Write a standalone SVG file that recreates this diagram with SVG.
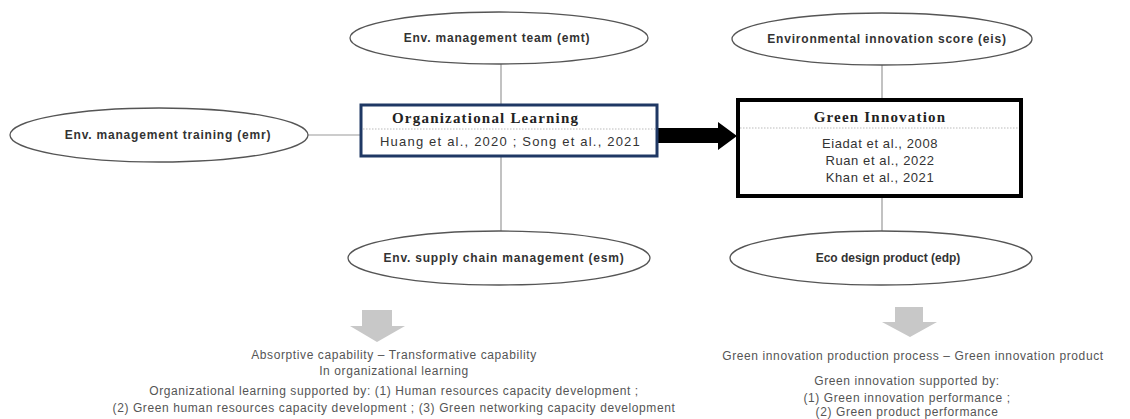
<svg xmlns="http://www.w3.org/2000/svg" width="1130" height="419" viewBox="0 0 1130 419">
<style>
.ell{fill:#fff;stroke:#555;stroke-width:1.3}
.el{font-family:"Liberation Sans",Arial,sans-serif;font-size:12px;font-weight:bold;fill:#333;text-anchor:middle;letter-spacing:0.8px}
.conn{stroke:#999;stroke-width:1.2;fill:none}
.ttl{font-family:"Liberation Serif","Times New Roman",serif;font-size:15px;font-weight:bold;fill:#222;letter-spacing:1.2px}
.ref{font-family:"Liberation Sans",Arial,sans-serif;font-size:13px;fill:#333;letter-spacing:0.6px}
.dot{stroke:#aaa;stroke-width:0.8;stroke-dasharray:1.5 1.5}
.note{font-family:"Liberation Sans",Arial,sans-serif;font-size:12px;fill:#555;text-anchor:middle;letter-spacing:0.6px}
.garrow{fill:#c8c8c8}
</style>
<rect width="1130" height="419" fill="#fff"/>
<g id="connectors">
<line class="conn" x1="501" y1="64" x2="501" y2="105"/>
<line class="conn" x1="501" y1="156" x2="501" y2="232"/>
<line class="conn" x1="308" y1="135" x2="361" y2="135"/>
<line class="conn" x1="882" y1="65" x2="882" y2="99"/>
<line class="conn" x1="882" y1="197" x2="882" y2="232"/>
<polygon fill="#000" points="658,128 718,128 718,122 737,136 718,150 718,143 658,143"/>
</g>
<g id="emt">
<ellipse class="ell" cx="499" cy="38" rx="149" ry="26"/>
<text class="el" x="497" y="42">Env. management team (emt)</text>
</g>
<g id="emr">
<ellipse class="ell" cx="159" cy="135" rx="149" ry="27"/>
<text class="el" x="168" y="139">Env. management training (emr)</text>
</g>
<g id="esm">
<ellipse class="ell" cx="499" cy="258" rx="151" ry="27"/>
<text class="el" x="504" y="262">Env. supply chain management (esm)</text>
</g>
<g id="eis">
<ellipse class="ell" cx="882" cy="39" rx="150" ry="26"/>
<text class="el" x="887" y="43">Environmental innovation score (eis)</text>
</g>
<g id="edp">
<ellipse class="ell" cx="881" cy="258" rx="151" ry="27"/>
<text class="el" x="888" y="262" style="letter-spacing:0">Eco design product (edp)</text>
</g>
<g id="organizational-learning">
<rect x="361" y="105" width="296" height="51" fill="#fff" stroke="#1f3864" stroke-width="3"/>
<line class="dot" x1="363" y1="129" x2="655" y2="129"/>
<text class="ttl" x="392" y="123">Organizational Learning</text>
<text class="ref" x="380" y="146" style="letter-spacing:1.2px">Huang et al., 2020 ; Song et al., 2021</text>
</g>
<g id="green-innovation">
<rect x="738" y="100" width="283" height="96" fill="#fff" stroke="#000" stroke-width="4"/>
<line class="dot" x1="740" y1="128" x2="1019" y2="128"/>
<text class="ttl" x="880" y="122" text-anchor="middle">Green Innovation</text>
<text class="ref" x="880" y="148" text-anchor="middle">Eiadat et al., 2008</text>
<text class="ref" x="880" y="165" text-anchor="middle">Ruan et al., 2022</text>
<text class="ref" x="880" y="182" text-anchor="middle">Khan et al., 2021</text>
</g>
<g id="ol-outcome">
<polygon class="garrow" points="362,310 392,310 392,326 405,326 377,342 350,326 362,326"/>
<text class="note" x="394" y="359">Absorptive capability – Transformative capability</text>
<text class="note" x="394" y="375">In organizational learning</text>
<text class="note" x="394" y="395">Organizational learning supported by: (1) Human resources capacity development ;</text>
<text class="note" x="394" y="412">(2) Green human resources capacity development ; (3) Green networking capacity development</text>
</g>
<g id="gi-outcome">
<polygon class="garrow" points="895,307 923,307 923,322 937,322 910,337 882,322 895,322"/>
<text class="note" x="913" y="360">Green innovation production process – Green innovation product</text>
<text class="note" x="907" y="385">Green innovation supported by:</text>
<text class="note" x="907" y="402">(1) Green innovation performance ;</text>
<text class="note" x="907" y="416">(2) Green product performance</text>
</g>
</svg>
